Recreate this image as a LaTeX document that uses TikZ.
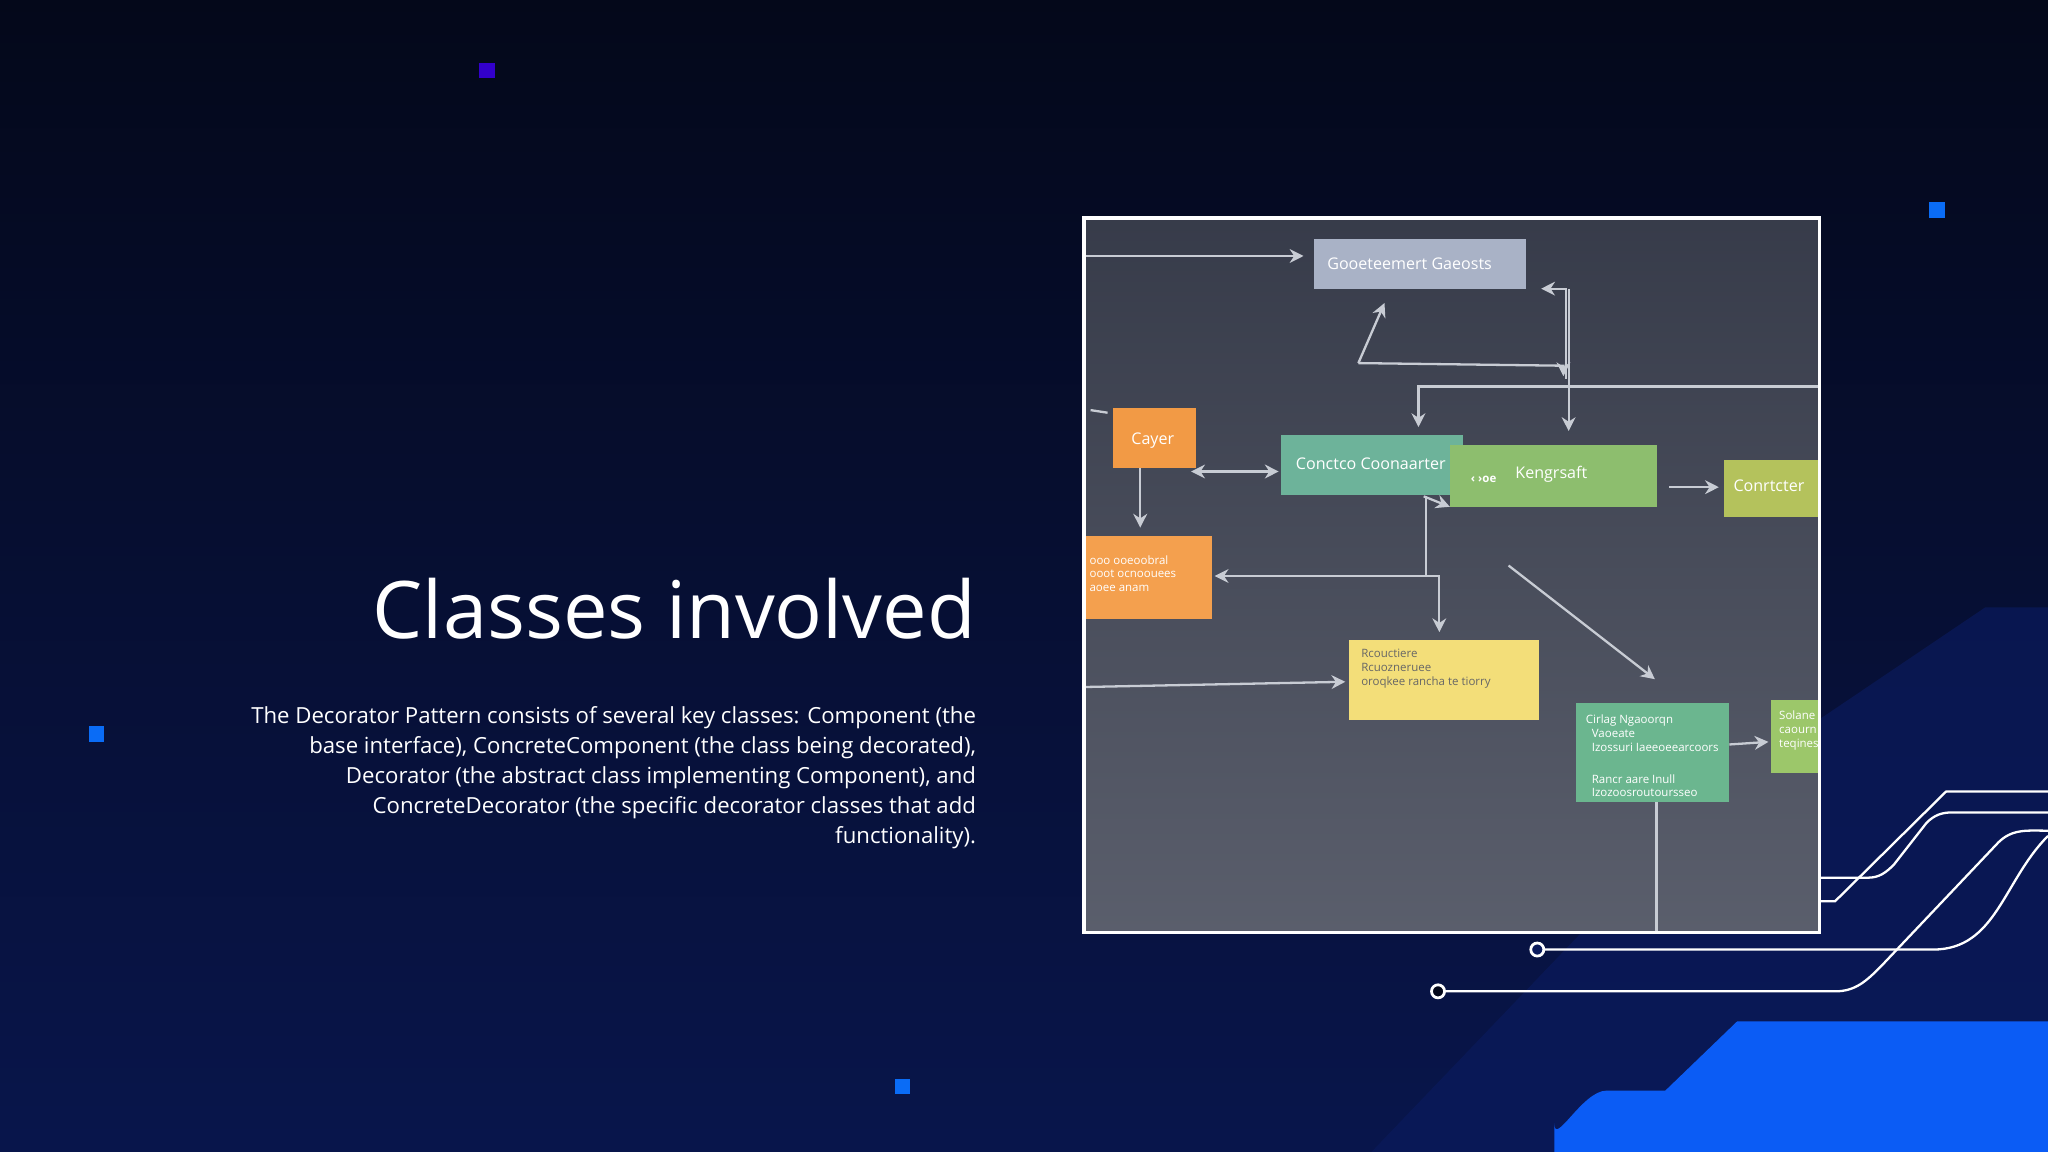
\documentclass[tikz,border=0pt]{standalone}
\usepackage{fontspec}
\setmainfont{Open Sans}
\usetikzlibrary{arrows.meta}
\definecolor{bgA}{HTML}{04081A}
\definecolor{bgB}{HTML}{0A1A5C}
\definecolor{blueA}{HTML}{0B5CF5}
\definecolor{panel}{HTML}{3D4252}
\definecolor{ln}{HTML}{C8CCD4}
\definecolor{cGray}{HTML}{A9B2C6}
\definecolor{cOr}{HTML}{F29A45}
\definecolor{cOr2}{HTML}{F4A04E}
\definecolor{cTeal}{HTML}{6DB39A}
\definecolor{cGreen}{HTML}{8DBE6E}
\definecolor{cYG}{HTML}{B4C25C}
\definecolor{cYel}{HTML}{F3DE79}
\definecolor{cGr2}{HTML}{6BB68F}
\definecolor{cGr3}{HTML}{9CC76A}
\tikzset{
 lbl/.style={inner sep=1pt,font=\fontsize{3.5}{4}\selectfont,text=white,anchor=west,align=left},
 sm/.style={inner sep=1pt,font=\fontsize{2.5}{3}\selectfont,text=white,anchor=north west,align=left},
 con/.style={draw=ln,line width=0.5pt,-{Stealth[length=3pt,width=3pt]}},
 sq/.style={minimum size=3.4pt,inner sep=0pt},
 circ/.style={draw=white,line width=0.5pt},
}
\begin{document}
\begin{tikzpicture}[x=0.01cm,y=-0.01cm]
\useasboundingbox (0,0) rectangle (1568,882);
\shade[left color=bgA,right color=bgB!75!bgA,shading angle=0] (0,0) rectangle (1568,882);
\fill[bgB,opacity=0.7] (1050,882) -- (1320,600) -- (1520,465) -- (1568,465) -- (1568,882) -- cycle;
\fill[blueA] (1190,882) -- (1190,860) to[out=-90,in=180] (1230,835) -- (1275,835) -- (1330,782) -- (1568,782) -- (1568,882) -- cycle;
% squares
\node[sq,fill=blue!60!violet] (s1) at (373,54) {};
\node[sq,fill=blueA!90!cyan] (s2) at (1483,161) {};
\node[sq,fill=blueA!90!cyan] (s3) at (74,562) {};
\node[sq,fill=blueA!90!cyan] (s4) at (691,832) {};
% title and text
\node[anchor=east,text=white,font=\fontsize{17.3}{20}\selectfont,inner sep=0pt] (title) at (748,466) {Classes involved};
\node[anchor=north east,text=white,align=right,inner sep=0pt,font=\fontsize{4.83}{6.55}\selectfont] (body) at (748,540) {The Decorator Pattern consists of several key classes: Component (the\\base interface), ConcreteComponent (the class being decorated),\\Decorator (the abstract class implementing Component), and\\ConcreteDecorator (the specific decorator classes that add\\functionality).};
% circuit lines
\coordinate (c1) at (1177,727);
\coordinate (c2) at (1101,759);
\draw[circ] (c1) -- (1480,727) to[out=0,in=-135] (1568,640);
\draw[circ] (c2) -- (1405,759) to[out=0,in=-135] (1440,740) -- (1530,645) to[out=45,in=180] (1568,636);
\draw[circ] (1393,690) -- (1405,690) -- (1490,606) -- (1568,606);
\draw[circ] (1393,672) -- (1430,672) to[out=0,in=-135] (1450,662) -- (1475,630) to[out=45,in=180] (1495,622) -- (1568,622);
\draw[white,line width=0.6pt,fill=bgB] (c1) circle (5);
\draw[white,line width=0.6pt,fill=bgA] (c2) circle (5);
% panel
\shade[top color=panel!90!black,bottom color=panel!85!white] (830,167) rectangle (1393,714);
\begin{scope}
\clip (830,167) rectangle (1393,714);
\fill[cGray] (1006,183) rectangle (1168,221);
\node[lbl] (g) at (1012,202) {Gooeteemert Gaeosts};
\fill[cOr] (852,312) rectangle (916,358);
\node[lbl] (o1) at (862,337) {Cayer};
\fill[cTeal] (981,333) rectangle (1120,379);
\node[lbl] (t) at (988,355) {Conctco Coonaarter};
\fill[cGreen] (1110,341) rectangle (1269,388);
\node[lbl] (k) at (1156,363) {Kengrsaft};
\node[lbl,font=\fontsize{2.5}{3}\selectfont] (k2) at (1122,367) {\textbf{‹ ›oe}};
\fill[cYG] (1320,352) rectangle (1400,396);
\node[lbl] (c) at (1323,372) {Conrtcter};
\fill[cOr2] (828,410) rectangle (928,474);
\node[sm] (o2) at (830,421) {ooo ooeoobral\\ooot ocnoouees\\aoee anam};
\fill[cYel] (1033,490) rectangle (1178,551);
\node[sm,text=black!60] (y) at (1038,493) {Rcouctiere\\Rcuozneruee\\oroqkee rancha te tiorry};
\fill[cGr2] (1207,538) rectangle (1324,614);
\node[sm] (gr) at (1210,543) {Cirlag Ngaoorqn\\\ \ Vaoeate\\\ \ Izossuri Iaeeoeearcoors\\[4pt]\ \ Rancr aare Inull\\\ \ Izozoosroutoursseo};
\fill[cGr3] (1356,536) rectangle (1400,592);
\node[sm] (gs) at (1358,540) {Solane\\caourn\\teqines};
% connectors
\draw[con] (830,196) -- (998,196);
\draw[con] (1199,290) -- (1199,221) -- (1180,221);
\draw[con] (1040,278) -- (1060,232);
\draw[con] (1040,278) -- (1197,280) -- (1197,288);
\draw[con] (1201,221) -- (1201,330);
\draw[con] (1393,296) -- (1086,296) -- (1086,327);
\draw[con] (916,361) -- (979,361);
\draw[con] (940,361) -- (912,361);
\draw[con] (873,358) -- (873,404);
\draw[ln,line width=0.5pt] (835,314) -- (848,316);
\draw[con] (1278,373) -- (1316,373);
\draw[con] (1092,441) -- (930,441);
\draw[con] (1092,380) -- (1092,441) -- (1102,441) -- (1102,484);
\draw[con] (1090,380) -- (1110,388);
\draw[con] (830,526) -- (1030,522);
\draw[con] (1155,433) -- (1267,520);
\draw[con] (1324,570) -- (1354,568);
\draw[ln,line width=0.6pt] (1268,614) -- (1268,714);
\end{scope}
\draw[white,line width=0.8pt] (830,167) rectangle (1393,714);
\end{tikzpicture}
\end{document}
